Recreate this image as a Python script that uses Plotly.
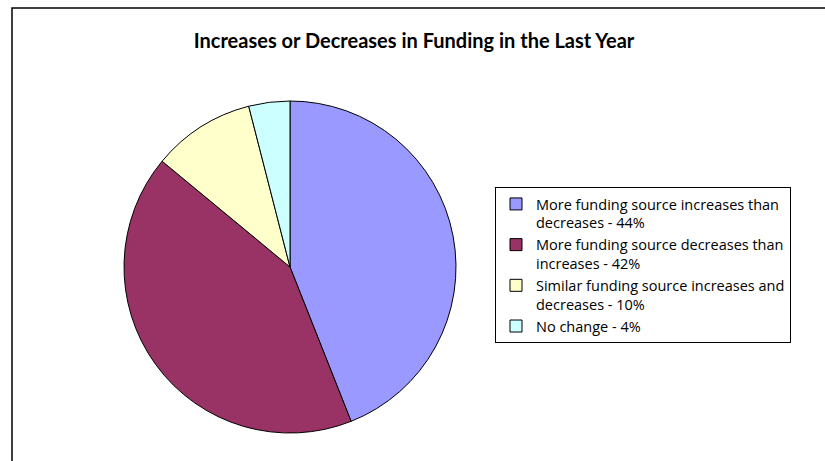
import plotly.graph_objects as go

labels = [
    "More funding source increases than<br>decreases - 44%",
    "More funding source decreases than<br>increases - 42%",
    "Similar funding source increases and<br>decreases - 10%",
    "No change - 4%",
]
values = [44, 42, 10, 4]
colors = ["#9999FF", "#993366", "#FFFFCC", "#CCFFFF"]

W, H = 825, 461

fig = go.Figure(go.Pie(
    labels=labels,
    values=values,
    sort=False,
    direction="clockwise",
    rotation=0,
    textinfo="none",
    hoverinfo="label+percent",
    marker=dict(colors=colors, line=dict(color="#000000", width=1)),
    domain=dict(x=[112 / W, 468 / W], y=[(H - 433) / H, (H - 101) / H]),
))

fig.update_layout(
    width=W, height=H,
    margin=dict(l=0, r=0, t=0, b=0),
    paper_bgcolor="white",
    plot_bgcolor="white",
    font=dict(family="Lato, Carlito, Calibri, sans-serif", color="#000000"),
    title=dict(
        text="<b>Increases or Decreases in Funding in the Last Year</b>",
        x=414 / W, xanchor="center",
        y=1 - 41 / H, yanchor="middle",
        font=dict(size=20, family="Lato, Carlito, Calibri, sans-serif", color="#000000"),
    ),
    legend=dict(
        x=495 / W, y=1 - 187 / H, xanchor="left", yanchor="top",
        bordercolor="#000000", borderwidth=1,
        bgcolor="white",
        font=dict(size=14.5, family="Open Sans, sans-serif", color="#000000"),
        valign="top",
        tracegroupgap=0,
        itemwidth=30,
    ),
    shapes=[dict(
        type="rect", xref="paper", yref="paper",
        x0=12 / W, x1=1.05, y0=-0.05, y1=1 - 8 / H,
        line=dict(color="#000000", width=1.5),
        fillcolor="rgba(0,0,0,0)",
    )],
)

fig.write_html("out.html")
